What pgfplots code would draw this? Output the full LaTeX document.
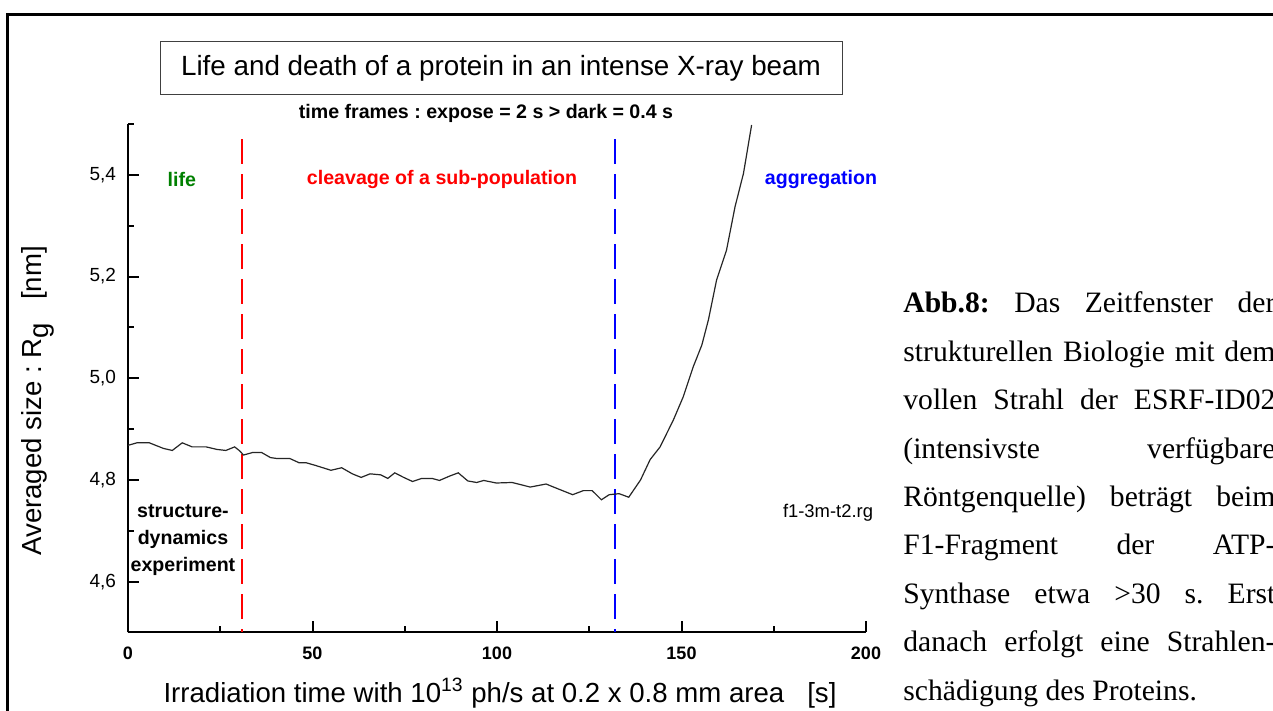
\documentclass[border=0pt]{standalone}
\usepackage{pgfplots}
\pgfplotsset{compat=1.18}
\usepackage{fontspec}
\setmainfont{Liberation Sans}
\newfontfamily\seriffont{Liberation Serif}
\definecolor{lifegreen}{RGB}{0,128,0}
\definecolor{myred}{RGB}{255,0,0}
\definecolor{myblue}{RGB}{0,0,255}
\frenchspacing
\begin{document}
\begin{tikzpicture}[x=1pt,y=1pt]
\path[use as bounding box, clip] (0,0) rectangle (636.5,355.5);
\fill[white] (0,0) rectangle (636.5,355.5);
\draw[line width=1.5pt] (3.5,-5) -- (3.5,348) -- (650,348);
\draw[line width=0.5pt, black!75] (80,308) rectangle (421,334.5);
\node[font=\fontsize{13.9}{16}\selectfont] at (250.5,321.25) {Life and death of a protein in an intense X-ray beam};
\node[font=\fontsize{9.8}{12}\selectfont\bfseries] at (243,299) {time frames : expose = 2 s > dark = 0.4 s};
\begin{axis}[at={(64pt,39.25pt)}, anchor=south west, scale only axis,
  width=369pt, height=254.25pt,
  xmin=0, xmax=200, ymin=4.5, ymax=5.5,
  axis x line*=bottom, axis y line*=left,
  axis line style={-, line width=1pt, black},
  xtick={0,50,100,150,200}, minor xtick={25,75,125,175},
  ytick={4.6,4.8,5.0,5.2,5.4}, minor ytick={4.7,4.9,5.1,5.3,5.5},
  yticklabels={{4,6},{4,8},{5,0},{5,2},{5,4}},
  tick align=inside, major tick length=5.5pt, minor tick length=3pt,
  tick style={line width=1pt, black},
  /pgf/number format/assume math mode=true,
  xticklabel style={font=\fontsize{9}{10}\selectfont\bfseries, yshift=-3.5pt},
  yticklabel style={font=\fontsize{9.5}{10}\selectfont, xshift=-2.5pt},
  clip=false]
\addplot[draw=myblue, color=myblue, line width=0.7pt, dash pattern=on 12.5pt off 5pt] coordinates {(132,5.47) (132,4.5)};
\addplot[draw=myred, color=myred, line width=1pt, dash pattern=on 12.5pt off 5pt] coordinates {(30.8,5.47) (30.8,4.5)};
\addplot[draw=black!85, line width=0.6pt] coordinates {
(0,4.868) (2.4,4.873) (5.8,4.873) (9.6,4.862) (12,4.858) (14.7,4.873) (17.4,4.865) (21.2,4.865) (24.1,4.860) (26.5,4.858) (28.9,4.865) (30.3,4.857) (31.3,4.849) (33.8,4.854) (36.2,4.854) (38.6,4.844) (40.5,4.842) (43.9,4.842) (46.3,4.834) (48.2,4.834) (50.6,4.829) (55,4.819) (57.9,4.824) (60.8,4.812) (63.2,4.805) (65.6,4.812) (68.5,4.810) (70.4,4.803) (72.3,4.814) (74.7,4.805) (77.1,4.797) (79.6,4.803) (82.4,4.803) (84.4,4.799) (87.3,4.808) (89.5,4.814) (92.1,4.798) (94.5,4.795) (96.4,4.799) (99.8,4.794) (104.1,4.795) (109,4.786) (113.3,4.792) (116.7,4.782) (120.5,4.771) (123.4,4.779) (125.8,4.779) (128.3,4.761) (130.4,4.771) (133.1,4.773) (135.7,4.766) (138.9,4.800) (141.5,4.840) (144.2,4.865) (147.8,4.918) (150.5,4.964) (153.2,5.023) (155.5,5.065) (157.3,5.115) (159.5,5.193) (162.2,5.252) (164.5,5.337) (166.8,5.403) (169.0,5.498)
};
\node[font=\fontsize{9.8}{12}\selectfont\bfseries, text=lifegreen] at (axis cs:14.6,5.39) {life};
\node[font=\fontsize{9.8}{12}\selectfont\bfseries, text=myred] at (axis cs:85.1,5.39) {cleavage of a sub-population};
\node[font=\fontsize{9.8}{12}\selectfont\bfseries, text=myblue] at (axis cs:187.8,5.39) {aggregation};
\node[font=\fontsize{9.8}{13.5}\selectfont\bfseries, align=center] at (axis cs:14.9,4.682) {structure-\\dynamics\\experiment};
\node[font=\fontsize{9.2}{11}\selectfont] at (axis cs:189.7,4.735) {f1-3m-t2.rg};
\end{axis}
\node[font=\fontsize{13.8}{16}\selectfont] at (250,9) {Irradiation time with 10\textsuperscript{13} ph/s at 0.2 x 0.8 mm area\ \ \ [s]};
\node[font=\fontsize{13.8}{16}\selectfont, rotate=90] at (19,155) {Averaged size : R\raisebox{-0.5ex}{g}\ \ \ [nm]};
\begin{scope}[every node/.style={anchor=base west, inner sep=0pt, font=\seriffont\fontsize{14.8}{24.2}\selectfont}]
\node at (451.5,199.0) {\makebox[186pt][s]{\textbf{Abb.8:} Das Zeitfenster der}};
\node at (451.5,174.8) {\makebox[186pt][s]{strukturellen Biologie mit dem}};
\node at (451.5,150.6) {\makebox[186pt][s]{vollen Strahl der ESRF-ID02}};
\node at (451.5,126.4) {\makebox[186pt][s]{(intensivste verfügbare}};
\node at (451.5,102.2) {\makebox[186pt][s]{Röntgenquelle) beträgt beim}};
\node at (451.5,78.0) {\makebox[186pt][s]{F1-Fragment der ATP-}};
\node at (451.5,53.8) {\makebox[186pt][s]{Synthase etwa >30 s. Erst}};
\node at (451.5,29.6) {\makebox[186pt][s]{danach erfolgt eine Strahlen-}};
\node at (451.5,5.4) {schädigung des Proteins.};
\end{scope}
\end{tikzpicture}
\end{document}
